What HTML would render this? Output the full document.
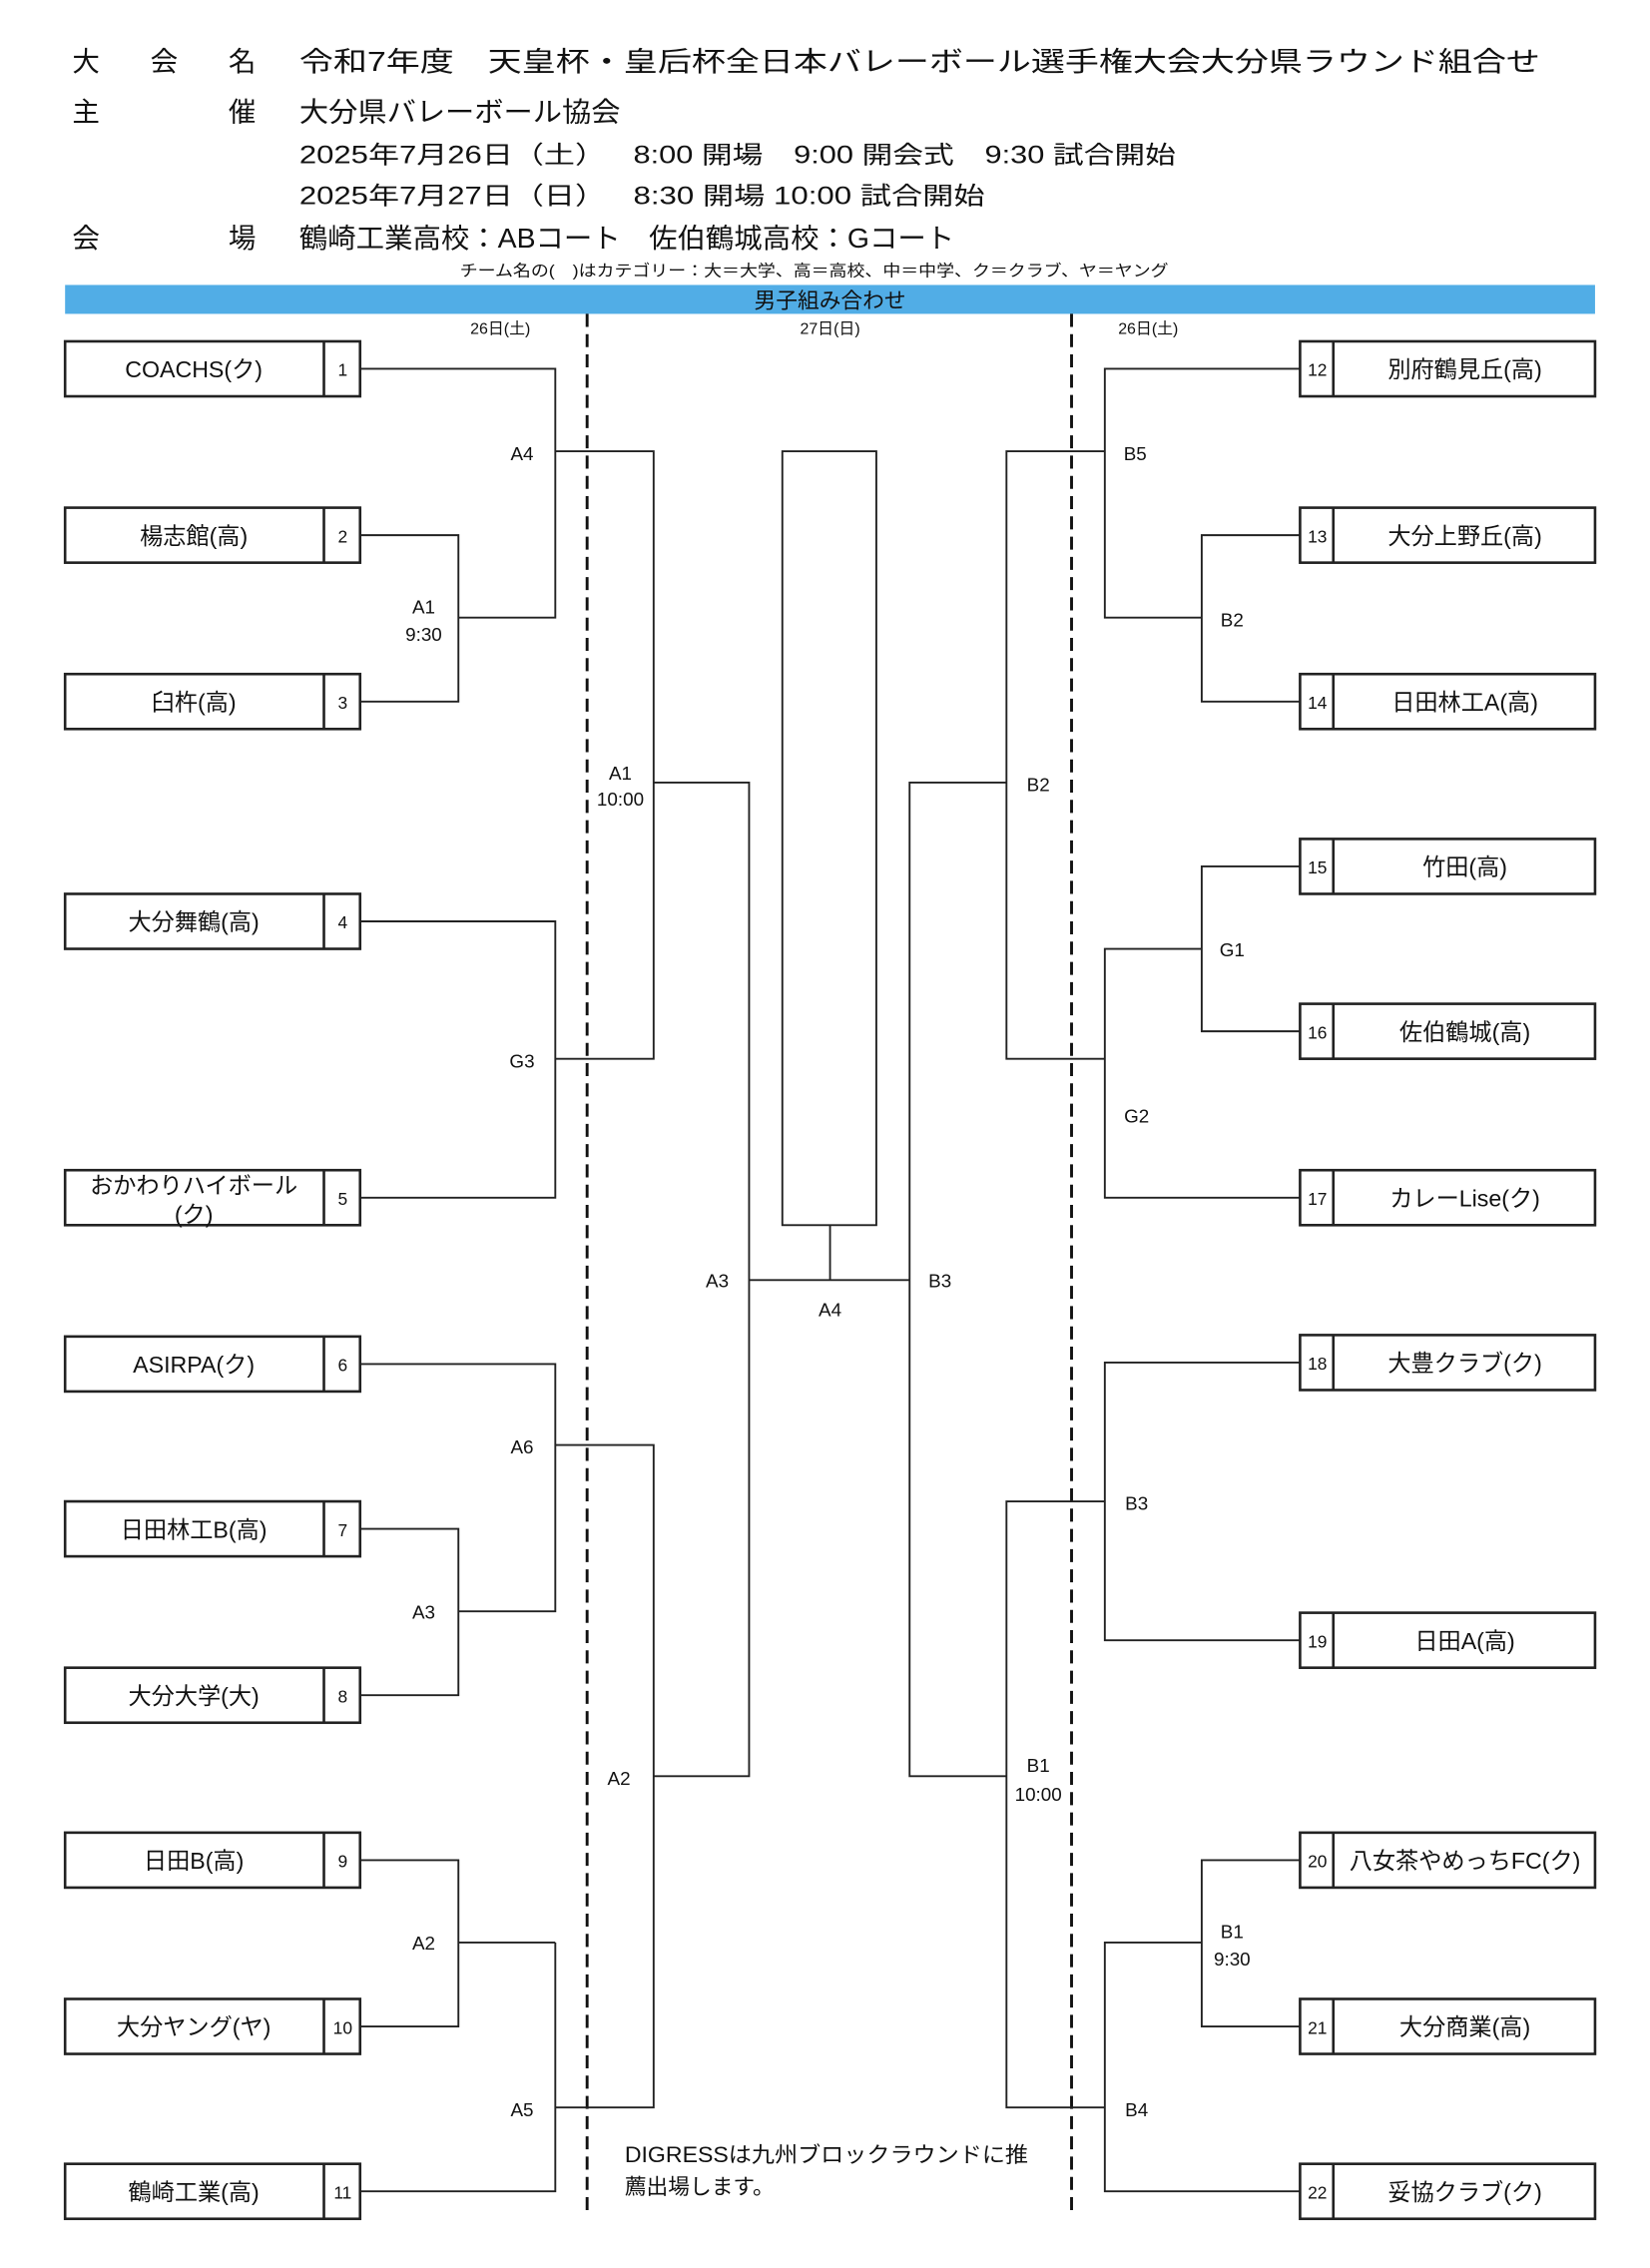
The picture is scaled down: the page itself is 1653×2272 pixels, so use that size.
<!DOCTYPE html>
<html><head><meta charset="utf-8"><style>
html,body{margin:0;padding:0;background:#fff;}
svg{display:block;}
text{font-family:"Liberation Sans","Noto Sans CJK JP",sans-serif;fill:#111;}
</style></head><body>
<svg width="1653" height="2272" viewBox="0 0 1141 1568" preserveAspectRatio="none" xmlns="http://www.w3.org/2000/svg">
<g font-size="19">
<text x="50" y="49">大</text><text x="104" y="49">会</text><text x="158" y="49">名</text>
<text x="207" y="49" textLength="858" lengthAdjust="spacingAndGlyphs">令和7年度　天皇杯・皇后杯全日本バレーボール選手権大会大分県ラウンド組合せ</text>
<text x="50" y="84">主</text><text x="158" y="84">催</text>
<text x="207" y="84" textLength="222" lengthAdjust="spacingAndGlyphs">大分県バレーボール協会</text>
<text x="207" y="113" font-size="17" textLength="212" lengthAdjust="spacingAndGlyphs">2025年7月26日（土）</text>
<text x="438" y="113" font-size="17" textLength="375" lengthAdjust="spacingAndGlyphs">8:00 開場　9:00 開会式　9:30 試合開始</text>
<text x="207" y="141" font-size="17" textLength="212" lengthAdjust="spacingAndGlyphs">2025年7月27日（日）</text>
<text x="438" y="141" font-size="17" textLength="243" lengthAdjust="spacingAndGlyphs">8:30 開場 10:00 試合開始</text>
<text x="50" y="171">会</text><text x="158" y="171">場</text>
<text x="207" y="171" textLength="453" lengthAdjust="spacingAndGlyphs">鶴崎工業高校：ABコート　佐伯鶴城高校：Gコート</text>
</g>
<text x="563" y="191" font-size="11" text-anchor="middle" textLength="490" lengthAdjust="spacingAndGlyphs">チーム名の(　)はカテゴリー：大＝大学、高＝高校、中＝中学、ク＝クラブ、ヤ＝ヤング</text>
<rect x="45" y="197" width="1058" height="20" fill="#51ade6"/>
<text x="574" y="213" font-size="15" text-anchor="middle">男子組み合わせ</text>
<g font-size="11" text-anchor="middle">
<text x="346" y="231">26日(土)</text><text x="574" y="231">27日(日)</text><text x="794" y="231">26日(土)</text>
</g>
<g stroke="#111" stroke-width="2" stroke-dasharray="9,5">
<line x1="406" y1="217" x2="406" y2="1532"/><line x1="741" y1="217" x2="741" y2="1532"/>
</g>
<g fill="none" stroke="#222" stroke-width="1.3">
<polyline points="249,255 384,255 384,427 317,427"/>
<polyline points="249,370 317,370 317,485 249,485"/>
<polyline points="384,312 452,312 452,732 384,732"/>
<polyline points="249,637 384,637 384,828 249,828"/>
<polyline points="452,541 518,541 518,1228 452,1228"/>
<polyline points="249,943 384,943 384,1114 317,1114"/>
<polyline points="249,1057 317,1057 317,1172 249,1172"/>
<polyline points="384,999 452,999 452,1457 384,1457"/>
<polyline points="249,1286 317,1286 317,1401 249,1401"/>
<line x1="317" y1="1343" x2="384" y2="1343"/>
<polyline points="384,1343 384,1515 249,1515"/>
<line x1="518" y1="885" x2="629" y2="885"/>
<rect x="541" y="312" width="65" height="535"/>
<line x1="574" y1="847" x2="574" y2="885"/>
<polyline points="696,541 629,541 629,1228 696,1228"/>
<polyline points="764,312 696,312 696,732 764,732"/>
<polyline points="899,255 764,255 764,427 831,427"/>
<polyline points="899,370 831,370 831,485 899,485"/>
<polyline points="831,656 764,656 764,828 899,828"/>
<polyline points="899,599 831,599 831,713 899,713"/>
<polyline points="764,1038 696,1038 696,1457 764,1457"/>
<polyline points="899,942 764,942 764,1134 899,1134"/>
<polyline points="831,1343 764,1343 764,1515 899,1515"/>
<polyline points="899,1286 831,1286 831,1401 899,1401"/>
</g>
<g fill="none" stroke="#222" stroke-width="1.8">
<rect x="45" y="236" width="204" height="38"/><line x1="224" y1="236" x2="224" y2="274"/>
<rect x="45" y="351" width="204" height="38"/><line x1="224" y1="351" x2="224" y2="389"/>
<rect x="45" y="466" width="204" height="38"/><line x1="224" y1="466" x2="224" y2="504"/>
<rect x="45" y="618" width="204" height="38"/><line x1="224" y1="618" x2="224" y2="656"/>
<rect x="45" y="809" width="204" height="38"/><line x1="224" y1="809" x2="224" y2="847"/>
<rect x="45" y="924" width="204" height="38"/><line x1="224" y1="924" x2="224" y2="962"/>
<rect x="45" y="1038" width="204" height="38"/><line x1="224" y1="1038" x2="224" y2="1076"/>
<rect x="45" y="1153" width="204" height="38"/><line x1="224" y1="1153" x2="224" y2="1191"/>
<rect x="45" y="1267" width="204" height="38"/><line x1="224" y1="1267" x2="224" y2="1305"/>
<rect x="45" y="1382" width="204" height="38"/><line x1="224" y1="1382" x2="224" y2="1420"/>
<rect x="45" y="1496" width="204" height="38"/><line x1="224" y1="1496" x2="224" y2="1534"/>
<rect x="899" y="236" width="204" height="38"/><line x1="922" y1="236" x2="922" y2="274"/>
<rect x="899" y="351" width="204" height="38"/><line x1="922" y1="351" x2="922" y2="389"/>
<rect x="899" y="466" width="204" height="38"/><line x1="922" y1="466" x2="922" y2="504"/>
<rect x="899" y="580" width="204" height="38"/><line x1="922" y1="580" x2="922" y2="618"/>
<rect x="899" y="694" width="204" height="38"/><line x1="922" y1="694" x2="922" y2="732"/>
<rect x="899" y="809" width="204" height="38"/><line x1="922" y1="809" x2="922" y2="847"/>
<rect x="899" y="923" width="204" height="38"/><line x1="922" y1="923" x2="922" y2="961"/>
<rect x="899" y="1115" width="204" height="38"/><line x1="922" y1="1115" x2="922" y2="1153"/>
<rect x="899" y="1267" width="204" height="38"/><line x1="922" y1="1267" x2="922" y2="1305"/>
<rect x="899" y="1382" width="204" height="38"/><line x1="922" y1="1382" x2="922" y2="1420"/>
<rect x="899" y="1496" width="204" height="38"/><line x1="922" y1="1496" x2="922" y2="1534"/>
</g>
<g font-size="16" text-anchor="middle">
<text x="134" y="261">COACHS(ク)</text>
<text x="134" y="376">楊志館(高)</text>
<text x="134" y="491">臼杵(高)</text>
<text x="134" y="643">大分舞鶴(高)</text>
<text x="134" y="825">おかわりハイボール</text>
<text x="134" y="845">(ク)</text>
<text x="134" y="949">ASIRPA(ク)</text>
<text x="134" y="1063">日田林工B(高)</text>
<text x="134" y="1178">大分大学(大)</text>
<text x="134" y="1292">日田B(高)</text>
<text x="134" y="1407">大分ヤング(ヤ)</text>
<text x="134" y="1521">鶴崎工業(高)</text>
<text x="1013" y="261">別府鶴見丘(高)</text>
<text x="1013" y="376">大分上野丘(高)</text>
<text x="1013" y="491">日田林工A(高)</text>
<text x="1013" y="605">竹田(高)</text>
<text x="1013" y="719">佐伯鶴城(高)</text>
<text x="1013" y="834">カレーLise(ク)</text>
<text x="1013" y="948">大豊クラブ(ク)</text>
<text x="1013" y="1140">日田A(高)</text>
<text x="1013" y="1292">八女茶やめっちFC(ク)</text>
<text x="1013" y="1407">大分商業(高)</text>
<text x="1013" y="1521">妥協クラブ(ク)</text>
</g>
<g font-size="12" text-anchor="middle">
<text x="237" y="260">1</text><text x="237" y="375">2</text><text x="237" y="490">3</text><text x="237" y="642">4</text>
<text x="237" y="833">5</text><text x="237" y="948">6</text><text x="237" y="1062">7</text><text x="237" y="1177">8</text>
<text x="237" y="1291">9</text><text x="237" y="1406">10</text><text x="237" y="1520">11</text>
<text x="911" y="260">12</text><text x="911" y="375">13</text><text x="911" y="490">14</text><text x="911" y="604">15</text>
<text x="911" y="718">16</text><text x="911" y="833">17</text><text x="911" y="947">18</text><text x="911" y="1139">19</text>
<text x="911" y="1291">20</text><text x="911" y="1406">21</text><text x="911" y="1520">22</text>
</g>
<g font-size="13" text-anchor="middle">
<text x="361" y="318">A4</text>
<text x="293" y="424">A1</text><text x="293" y="443">9:30</text>
<text x="429" y="539">A1</text><text x="429" y="557">10:00</text>
<text x="361" y="738">G3</text>
<text x="496" y="890">A3</text>
<text x="574" y="910">A4</text>
<text x="650" y="890">B3</text>
<text x="361" y="1005">A6</text>
<text x="293" y="1119">A3</text>
<text x="428" y="1234">A2</text>
<text x="293" y="1348">A2</text>
<text x="361" y="1463">A5</text>
<text x="785" y="318">B5</text>
<text x="852" y="433">B2</text>
<text x="718" y="547">B2</text>
<text x="852" y="661">G1</text>
<text x="786" y="776">G2</text>
<text x="786" y="1044">B3</text>
<text x="718" y="1225">B1</text><text x="718" y="1245">10:00</text>
<text x="852" y="1340">B1</text><text x="852" y="1359">9:30</text>
<text x="786" y="1463">B4</text>
</g>
<text x="432" y="1495" font-size="15" textLength="279" lengthAdjust="spacingAndGlyphs">DIGRESSは九州ブロックラウンドに推</text>
<text x="432" y="1517" font-size="15">薦出場します。</text>
</svg>
</body></html>
